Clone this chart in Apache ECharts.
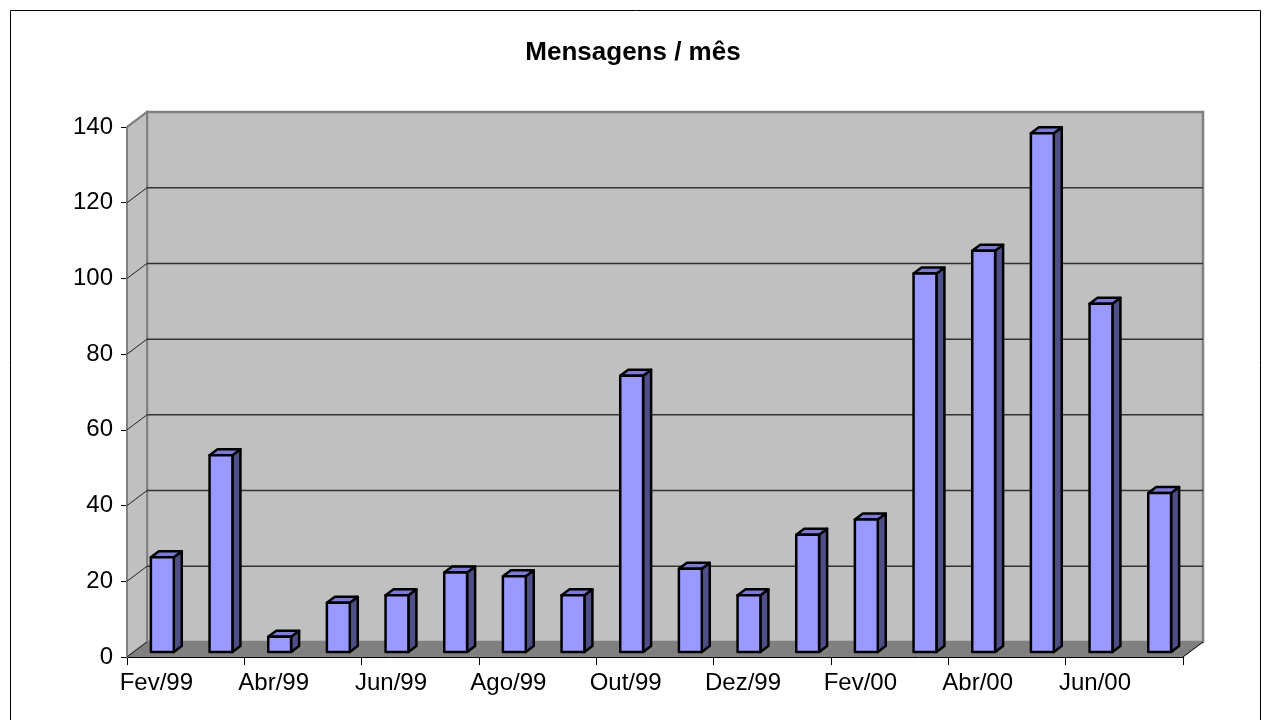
<html>
<head>
<meta charset="utf-8">
<title>Mensagens / mês</title>
<script src="https://cdn.jsdelivr.net/npm/echarts@6.0.0/dist/echarts.min.js"></script>
<style>
  html, body { margin: 0; padding: 0; background: #fff; }
  #chart { width: 1266px; height: 720px; }
</style>
</head>
<body>
<div id="chart"></div>
<script type="text/javascript">
// data
var months = ['Fev/99', 'Mar/99', 'Abr/99', 'Mai/99', 'Jun/99', 'Jul/99', 'Ago/99', 'Set/99', 'Out/99',
              'Nov/99', 'Dez/99', 'Jan/00', 'Fev/00', 'Mar/00', 'Abr/00', 'Mai/00', 'Jun/00', 'Jul/00'];
var mensagens = [25, 52, 4, 13, 15, 21, 20, 15, 73, 22, 15, 31, 35, 100, 106, 137, 92, 42];
var yMax = 140;
var yStep = 20;

// 3d look
var DX = 20, DY = -15;      // depth of the walls
var BX = 6, BY = -5;        // where the bars sit in depth
var BDX = 8, BDY = -6;      // depth of each bar

var chart = echarts.init(document.getElementById('chart'));

function renderWalls(params, api) {
    var cs = params.coordSys;
    var x0 = cs.x, x1 = cs.x + cs.width;
    var yb = api.coord([0, 0])[1];
    var yt = api.coord([0, yMax])[1];
    var kids = [];
    // back wall
    kids.push({ type: 'rect', shape: { x: x0 + DX, y: yt + DY, width: x1 - x0, height: yb - yt },
        style: { fill: '#c0c0c0', stroke: '#808080', lineWidth: 2.5 } });
    // left wall
    kids.push({ type: 'polygon', shape: { points: [[x0, yb], [x0, yt], [x0 + DX, yt + DY], [x0 + DX, yb + DY]] },
        style: { fill: '#c0c0c0', stroke: '#808080', lineWidth: 2 } });
    // floor
    kids.push({ type: 'polygon', shape: { points: [[x0, yb], [x1, yb], [x1 + DX, yb + DY], [x0 + DX, yb + DY]] },
        style: { fill: '#808080', stroke: null } });
    kids.push({ type: 'line', shape: { x1: x1, y1: yb, x2: x1 + DX, y2: yb + DY },
        style: { stroke: '#000', lineWidth: 1 } });
    for (var v = yStep; v < yMax; v += yStep) {
        var y = api.coord([0, v])[1];
        kids.push({ type: 'line', shape: { x1: x0 + DX, y1: y + DY, x2: x1 + DX, y2: y + DY },
            style: { stroke: '#333', lineWidth: 1.5 } });
    }
    for (var w = 0; w <= yMax; w += yStep) {
        var yy = api.coord([0, w])[1];
        kids.push({ type: 'line', shape: { x1: x0, y1: yy, x2: x0 + DX, y2: yy + DY },
            style: { stroke: w == yMax ? '#808080' : '#222', lineWidth: w == yMax ? 2 : 1 } });
    }
    return { type: 'group', children: kids };
}

function renderBar(params, api) {
    var idx = api.value(0);
    var base = api.coord([idx, 0]);
    var top = api.coord([idx, api.value(1)]);
    var bw = api.size([1, 0])[0] * 0.39;
    var xl = base[0] - bw / 2 + BX, xr = base[0] + bw / 2 + BX;
    var yb = base[1] + BY, yt = top[1] + BY;
    var st = { stroke: '#000', lineWidth: 2.5, lineJoin: 'round' };
    return {
        type: 'group',
        children: [
            { type: 'polygon', shape: { points: [[xr, yb], [xr, yt], [xr + BDX, yt + BDY], [xr + BDX, yb + BDY]] },
              style: Object.assign({ fill: '#4f4f88' }, st) },
            { type: 'polygon', shape: { points: [[xl, yt], [xr, yt], [xr + BDX, yt + BDY], [xl + BDX, yt + BDY]] },
              style: Object.assign({ fill: '#7b7bd6' }, st) },
            { type: 'rect', shape: { x: xl, y: yt, width: xr - xl, height: yb - yt },
              style: Object.assign({ fill: '#9999ff' }, st) }
        ]
    };
}

var barData = [];
for (var i = 0; i < months.length; i++) {
    barData.push([i, mensagens[i]]);
}

chart.setOption({
    animation: false,
    backgroundColor: '#fff',
    title: {
        text: 'Mensagens / mês',
        left: 'center',
        top: 35,
        textStyle: { fontFamily: 'Liberation Sans', fontWeight: 'bold', fontSize: 26, color: '#000' }
    },
    graphic: [{
        type: 'rect', shape: { x: 10.5, y: 10.5, width: 1250, height: 730 },
        style: { fill: null, stroke: '#000', lineWidth: 1 }, silent: true
    }],
    grid: { left: 127, right: 83, top: 127, bottom: 63 },
    xAxis: {
        type: 'category',
        data: months,
        boundaryGap: true,
        axisLine: { lineStyle: { color: '#000', width: 1 } },
        axisTick: { show: true, interval: 1, length: 8, lineStyle: { color: '#000' } },
        axisLabel: { interval: 1, margin: 14, color: '#000', fontFamily: 'Liberation Sans', fontSize: 24 },
        splitLine: { show: false }
    },
    yAxis: {
        type: 'value',
        min: 0,
        max: yMax,
        interval: yStep,
        axisLine: { show: true, lineStyle: { color: '#333', width: 1 } },
        axisTick: { show: true, length: 6, lineStyle: { color: '#000' } },
        axisLabel: { margin: 14, color: '#000', fontFamily: 'Liberation Sans', fontSize: 24 },
        splitLine: { show: false }
    },
    series: [{
        type: 'custom',
        name: 'paredes',
        z: 1,
        silent: true,
        renderItem: renderWalls,
        data: [[0, 0]]
    }, {
        type: 'custom',
        name: 'Mensagens',
        z: 3,
        renderItem: renderBar,
        encode: { x: 0, y: 1 },
        data: barData
    }]
});
</script>
</body>
</html>
